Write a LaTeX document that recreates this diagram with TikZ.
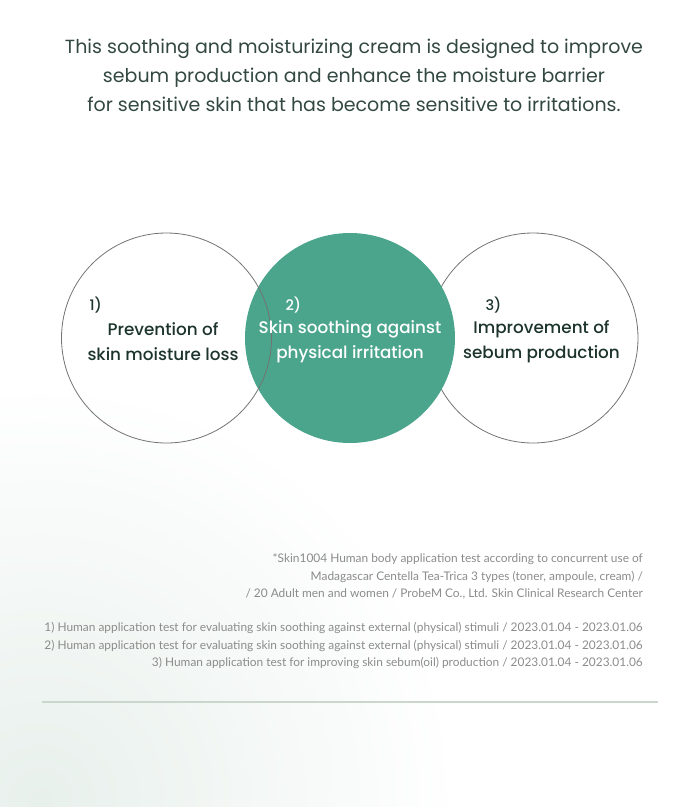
\documentclass[tikz,border=0pt]{standalone}
\usepackage{fontspec}
\setmainfont{Poppins}
\newfontfamily\medfont{Poppins Medium}
\newfontfamily\notefont{Lato}
\usetikzlibrary{positioning}

\definecolor{leafgreen}{RGB}{74,165,140}
\definecolor{inkgreen}{RGB}{28,52,45}
\definecolor{notegray}{RGB}{138,140,139}
\definecolor{rulegreen}{RGB}{203,214,207}
\definecolor{mistgreen}{RGB}{232,240,236}

\begin{document}
\begin{tikzpicture}[
  x=1pt, y=-1pt,
  ring/.style={circle, draw=black!55, line width=0.8pt, minimum size=210pt, inner sep=0pt},
  disc/.style={circle, fill=leafgreen, minimum size=210pt, inner sep=0pt},
  claim/.style={font=\medfont\fontsize{16.8}{25}\selectfont, text=inkgreen, align=center},
  num/.style={font=\medfont\fontsize{14.5}{14.5}\selectfont, text=inkgreen, anchor=base west},
  note/.style={font=\notefont\fontsize{11.9}{12}\selectfont, text=notegray, anchor=base east, inner sep=0pt},
]
\useasboundingbox (0,0) rectangle (700,807);

% faint mist in the lower corner
\begin{scope}
  \clip (0,0) rectangle (700,807);
  \shade[inner color=mistgreen, outer color=white] (40,800) circle (420);
\end{scope}

% headline
\node[font=\fontsize{19}{29}\selectfont, text=inkgreen!90, align=center] (head) at (354,75)
  {This soothing and moisturizing cream is designed to improve\\
   sebum production and enhance the moisture barrier\\
   for sensitive skin that has become sensitive to irritations.};

% three circles
\node[ring] (right) at (533,338) {};
\node[disc] (mid)   at (350,338) {};
\node[ring] (left)  at (166.5,338) {};

\node[claim]              (t1) at (163,342) {Prevention of\\skin moisture loss};
\node[claim, text=white]  (t2) at (350,342) {Skin soothing against\\physical irritation};
\node[claim]              (t3) at (541.5,342) {Improvement of\\sebum production};

\node[num]              (n1) at (86,310) {1)};
\node[num, text=white]  (n2) at (282,310) {2)};
\node[num]              (n3) at (482,310) {3)};

% footnotes
\node[note] (f1) at (643,562) {*Skin1004 Human body application test according to concurrent use of\ };
\node[note] (f2) at (643,580) {Madagascar Centella Tea-Trica 3 types (toner, ampoule, cream) /};
\node[note] (f3) at (643,597) {/ 20 Adult men and women / ProbeM Co., Ltd. Skin Clinical Research Center};

\node[note] (g1) at (643,631.5) {1) Human application test for evaluating skin soothing against external (physical) stimuli / 2023.01.04 - 2023.01.06};
\node[note] (g2) at (643,649) {2) Human application test for evaluating skin soothing against external (physical) stimuli / 2023.01.04 - 2023.01.06};
\node[note] (g3) at (643,666.5) {3) Human application test for improving skin sebum(oil) production / 2023.01.04 - 2023.01.06};

% closing rule
\coordinate (ruleL) at (42,702);
\coordinate (ruleR) at (658,702);
\draw[rulegreen, line width=1.3pt] (ruleL) -- (ruleR);
\end{tikzpicture}
\end{document}
